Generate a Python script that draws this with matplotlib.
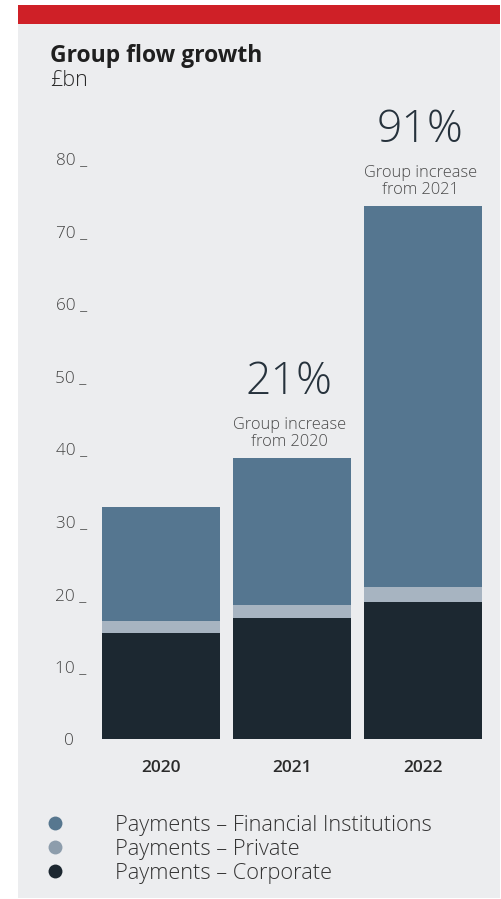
import matplotlib
matplotlib.use("Agg")
import matplotlib.pyplot as plt
from matplotlib.patches import Rectangle
from matplotlib.lines import Line2D
from matplotlib.transforms import ScaledTranslation

plt.rcParams['font.family'] = ['Open Sans', 'DejaVu Sans']

# Data (£bn)
years = ["2020", "2021", "2022"]
corporate = [14.6, 16.7, 18.9]
private = [1.65, 1.8, 2.0]
financial_inst = [15.75, 20.2, 52.5]
growth_labels = [None, "21%", "91%"]
growth_notes = [None, "Group increase\nfrom 2020", "Group increase\nfrom 2021"]
yticks = [0, 10, 20, 30, 40, 50, 60, 70, 80]
series_names = ["Payments – Financial Institutions", "Payments – Private", "Payments – Corporate"]

C_FI = "#557690"
C_PRIV = "#a7b4c1"
C_CORP = "#1c2831"
LEG_COLORS = ["#57778f", "#8d9dac", "#1c2730"]
PANEL = "#ecedef"
RED = "#cf2027"

W, H = 502, 899
fig = plt.figure(figsize=(W / 100, H / 100), dpi=100)
fig.patch.set_facecolor("white")


def fx(px):
    return px / W


def fy(py):
    return 1 - py / H


# Background panel and red header band (behind everything)
fig.patches.append(Rectangle((fx(18), fy(898)), fx(500) - fx(18), fy(24) - fy(898),
                             transform=fig.transFigure, facecolor=PANEL, edgecolor="none", zorder=-2))
fig.patches.append(Rectangle((fx(18), fy(24.3)), fx(500) - fx(18), fy(5) - fy(24.3),
                             transform=fig.transFigure, facecolor=RED, edgecolor="none", zorder=-2))

# Title
fig.text(fx(50), fy(62.5), "Group flow growth", fontsize=16.5, fontweight="bold",
         color="#1f1f1f", va="baseline", ha="left")
fig.text(fx(50), fy(86), "£bn", fontsize=15.5, fontweight="light",
         color="#2a2a2a", va="baseline", ha="left")

# Bar axes: zero at y=739 px, 7.26 px per unit
y0_px = 739
scale = 7.26
ymax = 84
ax = fig.add_axes([fx(102), 1 - y0_px / H, fx(482) - fx(102), ymax * scale / H])
ax.set_facecolor("none")
ax.set_xlim(-0.45, 2.45)
ax.set_ylim(0, ymax)

x = list(range(len(years)))
width = 0.9
bottom2 = [c + p for c, p in zip(corporate, private)]
totals = [b + f for b, f in zip(bottom2, financial_inst)]
ax.bar(x, corporate, width=width, color=C_CORP, linewidth=0)
ax.bar(x, private, width=width, bottom=corporate, color=C_PRIV, linewidth=0)
ax.bar(x, financial_inst, width=width, bottom=bottom2, color=C_FI, linewidth=0)

for s in ax.spines.values():
    s.set_visible(False)

ax.set_xticks(x)
ax.set_xticklabels(years, fontsize=12.5, fontweight="semibold", color="#2b2b2b")
ax.tick_params(axis="x", length=0, pad=15)

ax.set_yticks(yticks)
ax.set_yticklabels([f"{v} _" if v else "0" for v in yticks], fontsize=12.3,
                   fontweight="light", color="#444444")
ax.tick_params(axis="y", length=0, pad=11)
for lbl in ax.get_yticklabels():
    if lbl.get_text() == "0":
        lbl.set_transform(lbl.get_transform() + ScaledTranslation(-13 / 100, 0, fig.dpi_scale_trans))

# Growth annotations above bars
for xi, tot, big, note in zip(x, totals, growth_labels, growth_notes):
    if big is None:
        continue
    ax.annotate(big, xy=(xi, tot), xytext=(-2, 46), textcoords="offset points",
                ha="center", va="baseline", fontsize=32, fontweight="light", color="#26323c")
    ax.annotate(note, xy=(xi, tot), xytext=(-2, 8.5), textcoords="offset points",
                ha="center", va="baseline", fontsize=11.8, fontweight="light", color="#4a4a4a",
                linespacing=1.1, multialignment="center")

# Legend
handles = [Line2D([], [], marker="o", linestyle="", markersize=10, color=c, markeredgewidth=0)
           for c in LEG_COLORS]
fs_leg = 15.7
fs_px = fs_leg * 100 / 72
fig.legend(handles, series_names, loc="upper left",
           bbox_to_anchor=(fx(55 - fs_px / 2), fy(815)), frameon=False,
           prop={"weight": "light", "size": fs_leg}, labelcolor="#333333",
           handlelength=1.0, handletextpad=(115 - 55 - fs_px / 2) / fs_px,
           labelspacing=0.14, borderpad=0, borderaxespad=0)

fig.savefig("out.png", dpi=100, facecolor="white")
